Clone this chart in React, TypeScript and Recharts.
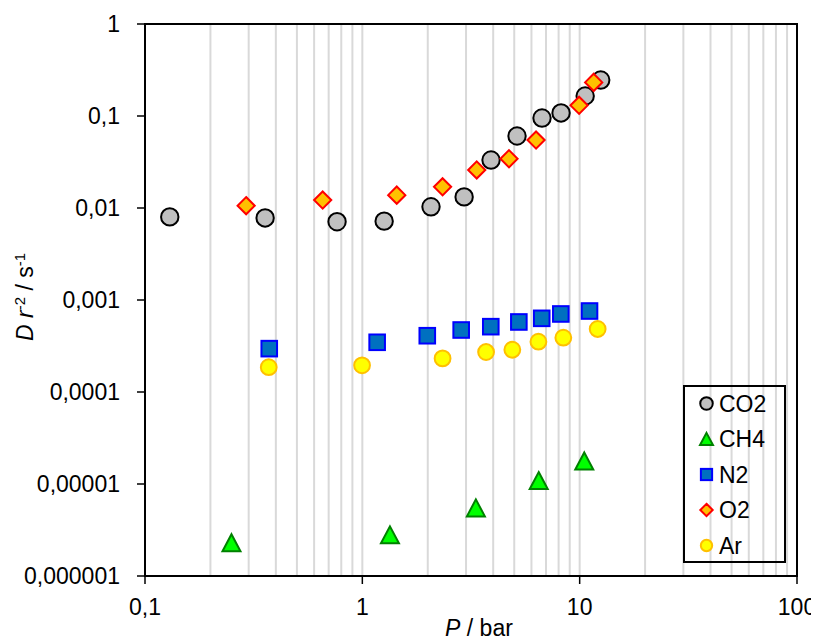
import React from 'react';
import { ScatterChart, Scatter, XAxis, YAxis, CartesianGrid, ReferenceArea, Legend, Label } from 'recharts';

// ---- tick values and labels ----
const xMajorTicks = [0.1, 1, 10, 100];
const xMajorLabels = ['0,1', '1', '10', '100'];
const xMinorTicks = [0.2, 0.3, 0.4, 0.5, 0.6, 0.7, 0.8, 0.9, 2, 3, 4, 5, 6, 7, 8, 9, 20, 30, 40, 50, 60, 70, 80, 90];
const yTicks = [0.000001, 0.00001, 0.0001, 0.001, 0.01, 0.1, 1];
const yTickLabels = ['0,000001', '0,00001', '0,0001', '0,001', '0,01', '0,1', '1'];

// ---- series (P in bar, D r^-2 in s^-1) ----
const co2Pressure = [0.13, 0.357, 0.765, 1.26, 2.07, 2.94, 3.91, 5.15, 6.71, 8.21, 10.6, 12.5];
const co2Rate = [0.008, 0.0078, 0.0071, 0.0072, 0.0103, 0.0132, 0.0332, 0.0606, 0.095, 0.108, 0.165, 0.246];

const ch4Pressure = [0.25, 1.34, 3.33, 6.48, 10.5];
const ch4Rate = [0.0000023, 0.0000028, 0.0000055, 0.0000109, 0.0000178];

const n2Pressure = [0.373, 1.17, 1.99, 2.85, 3.9, 5.25, 6.69, 8.19, 11.1];
const n2Rate = [0.000296, 0.000347, 0.000409, 0.000472, 0.000513, 0.000577, 0.000632, 0.000705, 0.000759];

const o2Pressure = [0.292, 0.657, 1.44, 2.34, 3.36, 4.73, 6.3, 9.94, 11.6];
const o2Rate = [0.0106, 0.0122, 0.0138, 0.017, 0.0259, 0.0343, 0.0548, 0.1306, 0.232];

const arPressure = [0.371, 0.997, 2.34, 3.71, 4.9, 6.46, 8.41, 12.1];
const arRate = [0.000186, 0.000195, 0.000232, 0.000272, 0.000288, 0.000352, 0.000389, 0.000484];

const seriesNames = ['CO2', 'CH4', 'N2', 'O2', 'Ar'];

const toPoints = (ps: number[], ds: number[]) => ps.map((p, i) => ({ p, d: ds[i] }));

const co2Data = toPoints(co2Pressure, co2Rate);
const ch4Data = toPoints(ch4Pressure, ch4Rate);
const n2Data = toPoints(n2Pressure, n2Rate);
const o2Data = toPoints(o2Pressure, o2Rate);
const arData = toPoints(arPressure, arRate);

const allXTicks = [...xMajorTicks, ...xMinorTicks].sort((a, b) => a - b);

const FONT = '"Liberation Sans", Arial, sans-serif';
const FS = 23;

type Kind = 'CO2' | 'CH4' | 'N2' | 'O2' | 'Ar';

function Marker({ kind, cx, cy, s = 1 }: { kind: Kind; cx: number; cy: number; s?: number }) {
  if (cx == null || cy == null || isNaN(cx) || isNaN(cy)) return <g />;
  switch (kind) {
    case 'CO2':
      return <circle cx={cx} cy={cy} r={8.7 * s} fill="#c0c0c0" stroke="#000" strokeWidth={2} />;
    case 'CH4': {
      const w = 9 * s;
      const h = 8.5 * s;
      return (
        <path
          d={`M${cx},${cy - h} L${cx + w},${cy + h} L${cx - w},${cy + h} Z`}
          fill="#00ff00"
          stroke="#008000"
          strokeWidth={2}
          strokeLinejoin="miter"
        />
      );
    }
    case 'N2': {
      const h = 7.8 * s;
      return <rect x={cx - h} y={cy - h} width={2 * h} height={2 * h} fill="#0070c0" stroke="#0000ff" strokeWidth={2} />;
    }
    case 'O2': {
      const h = 8.6 * s;
      return (
        <path
          d={`M${cx},${cy - h} L${cx + h},${cy} L${cx},${cy + h} L${cx - h},${cy} Z`}
          fill="#ffc000"
          stroke="#ff0000"
          strokeWidth={2}
        />
      );
    }
    case 'Ar':
    default:
      return <circle cx={cx} cy={cy} r={7.9 * s} fill="#ffff00" stroke="#ffc000" strokeWidth={2} />;
  }
}

const XTick = (props: any) => {
  const { x, y, payload } = props;
  const i = xMajorTicks.indexOf(payload.value);
  if (i < 0) return <g />;
  return (
    <g>
      <line x1={x} x2={x} y1={y - 22} y2={y - 14} stroke="#000" strokeWidth={1.5} />
      <text x={x} y={y} dy={17} textAnchor="middle" fontSize={FS} fill="#000" fontFamily={FONT}>
        {xMajorLabels[i]}
      </text>
    </g>
  );
};

const YTick = (props: any) => {
  const { x, y, payload } = props;
  const i = yTicks.findIndex((t) => Math.abs(Math.log10(t) - Math.log10(payload.value)) < 1e-6);
  return (
    <text x={x} y={y} dy={8} textAnchor="end" fontSize={FS} fill="#000" fontFamily={FONT}>
      {i >= 0 ? yTickLabels[i] : ''}
    </text>
  );
};

const XTitle = (props: any) => {
  const vb = props.viewBox || { x: 137, y: 568, width: 652, height: 48 };
  return (
    <text x={vb.x + vb.width / 2 + 8} y={vb.y + 60} textAnchor="middle" fontSize={FS} fill="#000" fontFamily={FONT}>
      <tspan fontStyle="italic">P</tspan>
      <tspan> / bar</tspan>
    </text>
  );
};

const YTitle = (props: any) => {
  const vb = props.viewBox || { x: 0, y: 16, width: 137, height: 552 };
  const cx = vb.x + 25;
  const cy = vb.y + vb.height / 2 - 3;
  return (
    <text
      x={cx}
      y={cy}
      transform={`rotate(-90, ${cx}, ${cy})`}
      textAnchor="middle"
      fontSize={FS}
      fill="#000"
      fontFamily={FONT}
    >
      <tspan fontStyle="italic">D</tspan>
      <tspan> </tspan>
      <tspan fontStyle="italic">r</tspan>
      <tspan dy={-8} fontSize={15}>-2</tspan>
      <tspan dy={8}> / s</tspan>
      <tspan dy={-8} fontSize={15}>-1</tspan>
    </text>
  );
};

const LegendBox = () => (
  <svg width={103} height={178} style={{ display: 'block' }}>
    <rect x={1} y={1} width={101} height={176} fill="none" stroke="#000" strokeWidth={2} />
    {seriesNames.map((name, i) => {
      const cy = 18.5 + i * 35.5;
      return (
        <g key={name}>
          <Marker kind={name as Kind} cx={23.5} cy={cy} s={0.72} />
          <text x={36} y={cy + 8} fontSize={FS} fill="#000" fontFamily={FONT}>
            {name}
          </text>
        </g>
      );
    })}
  </svg>
);

export default function App() {
  return (
    <div style={{ fontFamily: FONT, width: 811, height: 636 }}>
      <ScatterChart width={811} height={636} margin={{ top: 16, right: 22, bottom: 20, left: 0 }}>
        <CartesianGrid horizontal={false} vertical={true} stroke="#d9d9d9" strokeWidth={2} />
        <XAxis
          type="number"
          dataKey="p"
          scale="log"
          domain={[0.1, 100]}
          allowDataOverflow
          ticks={allXTicks}
          interval={0}
          height={48}
          tickSize={8}
          tickMargin={14}
          tickLine={false}
          axisLine={{ stroke: '#000', strokeWidth: 2 }}
          tick={<XTick />}
        >
          <Label content={<XTitle />} />
        </XAxis>
        <YAxis
          type="number"
          dataKey="d"
          scale="log"
          domain={[0.000001, 1]}
          allowDataOverflow
          ticks={yTicks}
          interval={0}
          width={137}
          tickSize={8}
          tickMargin={17}
          tickLine={{ stroke: '#000', strokeWidth: 1.5 }}
          axisLine={{ stroke: '#000', strokeWidth: 2 }}
          tick={<YTick />}
        >
          <Label content={<YTitle />} />
        </YAxis>
        <ReferenceArea x1={0.1} x2={100} y1={0.000001} y2={1} fill="none" stroke="#000" strokeWidth={2} />
        <Scatter name="CO2" data={co2Data} isAnimationActive={false} shape={(p: any) => <Marker kind="CO2" cx={p.cx} cy={p.cy} />} />
        <Scatter name="CH4" data={ch4Data} isAnimationActive={false} shape={(p: any) => <Marker kind="CH4" cx={p.cx} cy={p.cy} />} />
        <Scatter name="N2" data={n2Data} isAnimationActive={false} shape={(p: any) => <Marker kind="N2" cx={p.cx} cy={p.cy} />} />
        <Scatter name="O2" data={o2Data} isAnimationActive={false} shape={(p: any) => <Marker kind="O2" cx={p.cx} cy={p.cy} />} />
        <Scatter name="Ar" data={arData} isAnimationActive={false} shape={(p: any) => <Marker kind="Ar" cx={p.cx} cy={p.cy} />} />
        <Legend
          layout="vertical"
          align="center"
          verticalAlign="middle"
          wrapperStyle={{ left: 675, top: 377, width: 103, height: 178 }}
          content={() => <LegendBox />}
        />
      </ScatterChart>
    </div>
  );
}
